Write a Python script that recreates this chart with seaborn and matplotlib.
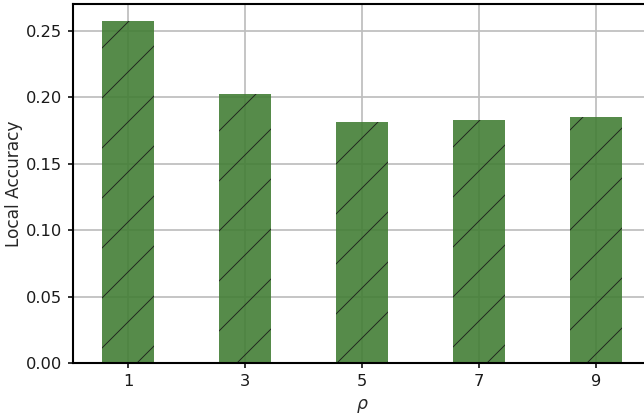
import matplotlib
matplotlib.use("Agg")
import matplotlib.pyplot as plt
import seaborn as sns
import pandas as pd

rho = ["1", "3", "5", "7", "9"]
local_accuracy = [0.2575, 0.2027, 0.1817, 0.1828, 0.1852]
yticks = [0.00, 0.05, 0.10, 0.15, 0.20, 0.25]

DPI = 150
sns.set_style("ticks")
plt.rcParams["font.family"] = ["DejaVu Sans"]
plt.rcParams["hatch.linewidth"] = 0.45

df = pd.DataFrame({"rho": rho, "acc": local_accuracy})

fig = plt.figure(figsize=(644 / DPI, 416 / DPI), dpi=DPI)
ax = fig.add_axes([73 / 644, 1 - 363 / 416, (651 - 73) / 644, (363 - 4) / 416])

sns.barplot(data=df, x="rho", y="acc", order=rho, color="#437e36", width=0.45,
            alpha=0.9, edgecolor="#1a1a1a", linewidth=0, hatch="/", ax=ax,
            saturation=1)

ax.set_axisbelow(True)
ax.grid(True, color="#bfbfbf", linewidth=0.85)
ax.set_xlim(-0.47, 4.47)
ax.set_ylim(0, 0.2703)
ax.set_yticks(yticks)
ax.set_yticklabels([f"{v:.2f}" for v in yticks])
ax.set_xlabel(r"$\rho$", fontsize=8.3, labelpad=3.8)
ax.set_ylabel("Local Accuracy", fontsize=8.2, labelpad=1.2)
ax.tick_params(axis="both", labelsize=7.8, length=2.6, width=0.75, pad=2.8,
               color="black", labelcolor="#1a1a1a")
for s in ["left", "bottom", "top", "right"]:
    ax.spines[s].set_visible(True)
    ax.spines[s].set_color("black")
    ax.spines[s].set_linewidth(1.0)

fig.savefig("out.png", dpi=DPI)
